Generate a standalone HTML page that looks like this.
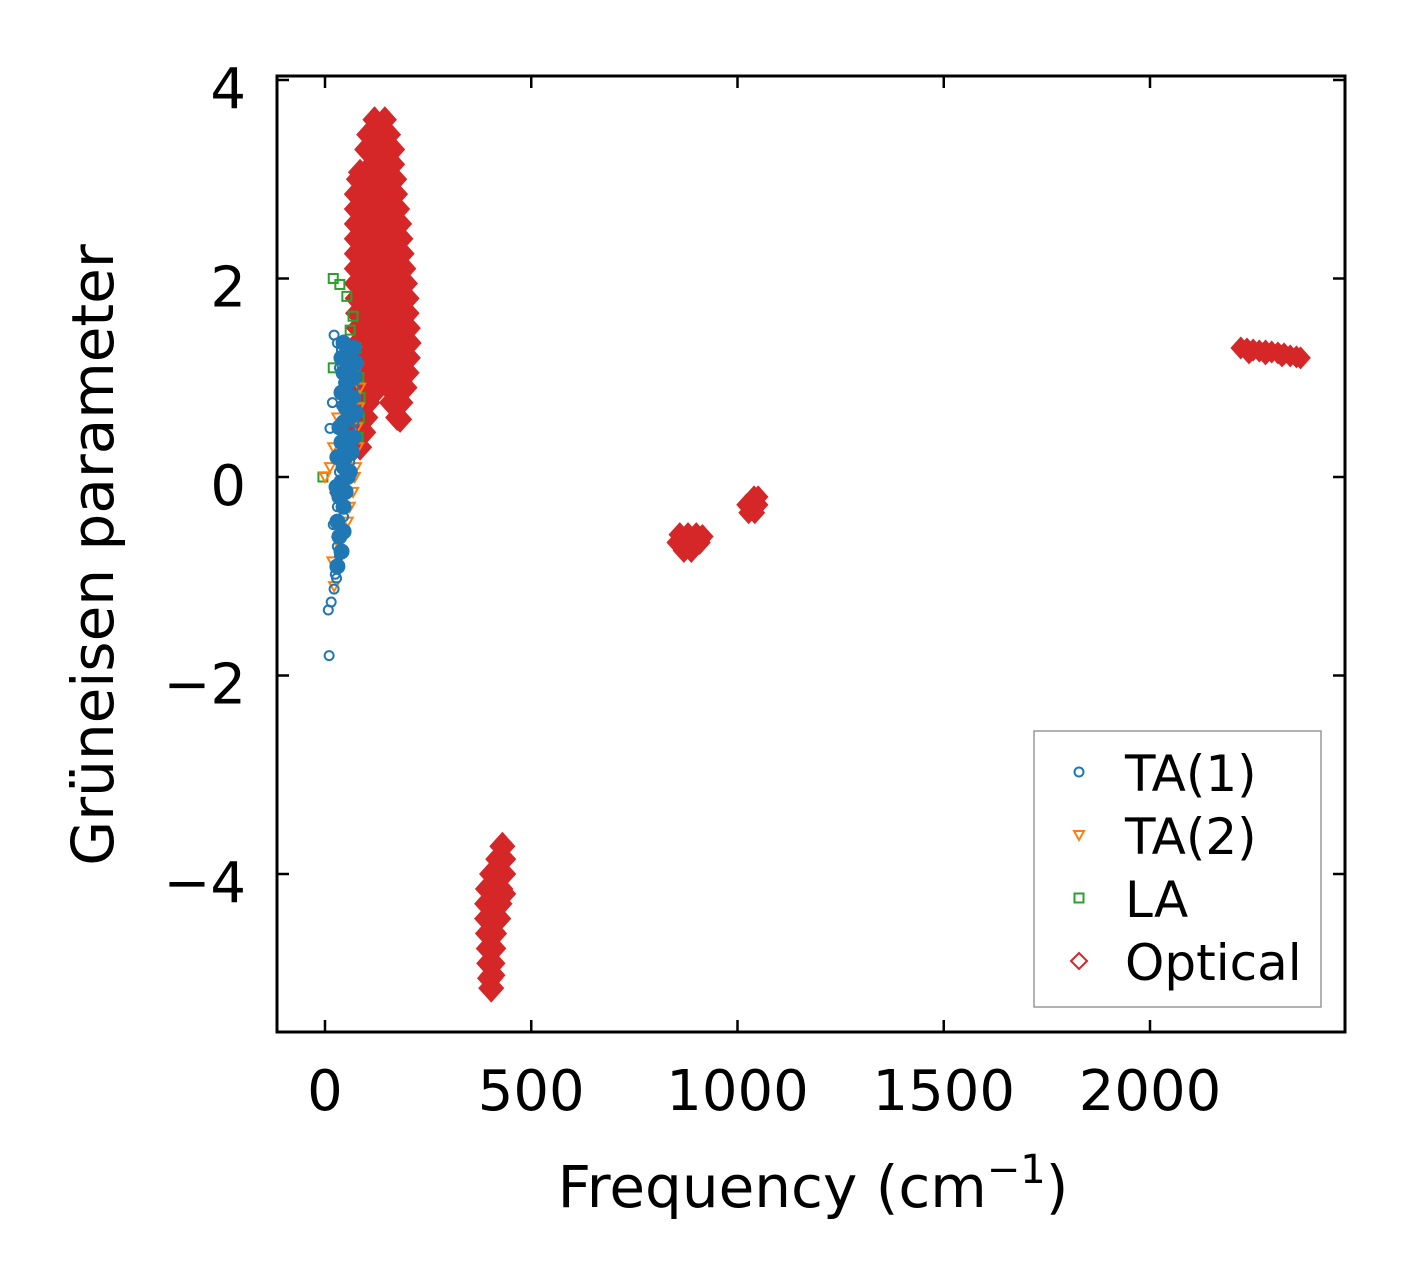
<!DOCTYPE html>
<html><head><meta charset="utf-8"><style>
html,body{margin:0;padding:0;background:#fff;}
svg text{font-family:"DejaVu Sans","Liberation Sans",sans-serif;fill:#000;}
</style></head><body>
<svg id="chart" width="1406" height="1281" viewBox="0 0 1406 1281" xmlns="http://www.w3.org/2000/svg" style="position:absolute;left:0;top:0">
<rect width="1406" height="1281" fill="#fff"/>
<g id="marks"></g>
<g id="axes"></g>
</svg>
<script>
const xTicks=[0,500,1000,1500,2000];
const yTicks=[4,2,0,-2,-4];
const yTickLabels=["4","2","0","\u22122","\u22124"];
const ta1=[[10,-1.8],[8,-1.34],[15,-1.26],[22,-1.13],[28,-1.02],[25,-0.98],[35,-0.79],[30,-0.7],[38,-0.6],[20,-0.48],[35,-0.45],[45,-0.4],[30,-0.3],[40,-0.2],[25,-0.15],[45,-0.05],[35,0.05],[50,0.1],[60,0.15],[40,0.25],[55,0.3],[65,0.35],[45,0.45],[12,0.49],[60,0.5],[70,0.55],[50,0.6],[65,0.7],[18,0.75],[40,0.72],[75,0.8],[55,0.85],[70,0.9],[45,0.95],[60,1.0],[75,1.05],[35,1.1],[50,1.15],[65,1.2],[40,1.28],[55,1.3],[22,1.43],[45,1.38],[30,1.35]];
const ta1Dense=[[30,-0.9],[40,-0.75],[35,-0.6],[45,-0.55],[30,-0.45],[45,-0.3],[35,-0.2],[50,-0.15],[40,-0.05],[55,0.0],[45,0.1],[60,0.05],[50,0.2],[65,0.25],[40,0.35],[55,0.4],[70,0.4],[45,0.55],[60,0.6],[75,0.65],[50,0.7],[65,0.8],[40,0.85],[55,0.95],[70,1.0],[45,1.05],[60,1.1],[75,1.15],[40,1.2],[55,1.25],[70,1.3],[45,1.35],[35,0.5],[30,0.2],[28,-0.1]];
const ta2=[[0,0.0],[12,0.1],[18,-0.85],[22,-1.1],[30,-0.65],[45,-0.55],[55,-0.45],[60,-0.3],[68,-0.15],[72,0.0],[75,0.1],[80,0.3],[78,0.5],[82,0.7],[85,0.9],[80,1.1],[75,1.27],[20,0.3],[25,-0.2],[30,0.6]];
const la=[[20,2.0],[36,1.94],[53,1.82],[68,1.62],[61,1.48],[20,1.1],[-5,0.0],[75,1.3],[82,1.0],[85,0.8],[83,0.6],[80,0.4],[40,1.3]];
const optMain=[[120,3.6],[145,3.6],[105,3.45],[130,3.45],[155,3.45],[100,3.3],[125,3.3],[150,3.3],[165,3.3],[85,3.07],[115,3.15],[140,3.15],[165,3.15],[80,3.0],[105,3.0],[130,3.0],[155,3.0],[170,3.0],[75,2.85],[100,2.85],[125,2.85],[150,2.85],[172,2.85],[75,2.7],[100,2.7],[125,2.7],[150,2.7],[177,2.7],[75,2.55],[100,2.55],[125,2.55],[150,2.55],[175,2.55],[182,2.55],[75,2.4],[100,2.4],[125,2.4],[150,2.4],[175,2.4],[185,2.4],[75,2.25],[100,2.25],[125,2.25],[150,2.25],[175,2.25],[188,2.25],[75,2.1],[100,2.1],[125,2.1],[150,2.1],[175,2.1],[192,2.1],[75,1.95],[100,1.95],[125,1.95],[150,1.95],[175,1.95],[196,1.95],[77,1.8],[100,1.8],[125,1.8],[150,1.8],[175,1.8],[200,1.8],[78,1.65],[100,1.65],[125,1.65],[150,1.65],[175,1.65],[200,1.65],[80,1.5],[105,1.5],[130,1.5],[155,1.5],[180,1.5],[203,1.5],[80,1.35],[105,1.35],[130,1.35],[155,1.35],[180,1.35],[205,1.35],[82,1.2],[105,1.2],[130,1.2],[155,1.2],[180,1.2],[203,1.2],[82,1.05],[105,1.05],[130,1.05],[155,1.05],[180,1.05],[200,1.05],[82,0.9],[105,0.9],[130,0.9],[155,0.9],[180,0.9],[195,0.9],[80,0.75],[105,0.75],[160,0.75],[185,0.75],[78,0.6],[100,0.6],[175,0.6],[182,0.58],[75,0.45],[95,0.45],[72,0.3],[85,0.3]];
const opt400=[[430,-3.72],[420,-3.85],[432,-3.85],[405,-4.0],[418,-4.0],[432,-4.0],[395,-4.15],[410,-4.15],[425,-4.15],[432,-4.2],[393,-4.3],[408,-4.3],[423,-4.3],[393,-4.45],[408,-4.45],[420,-4.45],[395,-4.6],[410,-4.6],[397,-4.75],[408,-4.75],[398,-4.9],[406,-4.9],[400,-5.05],[406,-5.02],[403,-5.15]];
const opt880=[[860,-0.58],[880,-0.58],[900,-0.58],[915,-0.6],[855,-0.66],[875,-0.66],[895,-0.66],[908,-0.66],[870,-0.74],[888,-0.74]];
const opt1040=[[1040,-0.2],[1050,-0.2],[1022,-0.28],[1035,-0.28],[1050,-0.28],[1027,-0.36],[1042,-0.36]];
const opt2280=[[2220,1.3],[2235,1.29],[2250,1.28],[2265,1.27],[2280,1.27],[2295,1.26],[2310,1.25],[2325,1.24],[2340,1.22],[2355,1.21],[2365,1.2],[2240,1.25],[2280,1.24],[2320,1.22]];

const NS="http://www.w3.org/2000/svg";
const L=277,R=1345,T=76,B=1032;
const X0=325, XS=206.25/500;
const Y0=477, YS=99.25;
function xp(v){return X0+v*XS;}
function yp(v){return Y0-v*YS;}
const marks=document.getElementById('marks');
const axes=document.getElementById('axes');
function mk(tag,attrs,parent){const e=document.createElementNS(NS,tag);for(const k in attrs)e.setAttribute(k,attrs[k]);parent.appendChild(e);return e;}
function circle(cx,cy,p,col){return mk('circle',{cx:cx,cy:cy,r:4.5,fill:'none',stroke:col,'stroke-width':2},p);}
function tri(cx,cy,p,col){return mk('polygon',{points:`${cx-5},${cy-4} ${cx+5},${cy-4} ${cx},${cy+5}`,fill:'none',stroke:col,'stroke-width':2},p);}
function sq(cx,cy,p,col){return mk('rect',{x:cx-4.5,y:cy-4.5,width:9,height:9,fill:'none',stroke:col,'stroke-width':2},p);}
function dia(cx,cy,p,col,h,fill){return mk('polygon',{points:`${cx},${cy-h} ${cx+h*0.9},${cy} ${cx},${cy+h} ${cx-h*0.9},${cy}`,fill:fill,stroke:col,'stroke-width':2},p);}
const RED='#d62728',BLUE='#1f77b4',ORANGE='#ff7f0e',GREEN='#2ca02c';
function drawOpt(arr,h){arr.forEach(d=>{const e=dia(xp(d[0]),yp(d[1]),marks,RED,h,RED);

});}
drawOpt(optMain,12);drawOpt(opt400,13);drawOpt(opt880,11);drawOpt(opt1040,10);drawOpt(opt2280,10);
la.forEach(d=>{const e=sq(xp(d[0]),yp(d[1]),marks,GREEN);

});
ta2.forEach(d=>{const e=tri(xp(d[0]),yp(d[1]),marks,ORANGE);

});
ta1.forEach(d=>{const e=circle(xp(d[0]),yp(d[1]),marks,BLUE);

});
ta1Dense.forEach(d=>{const e=mk('circle',{cx:xp(d[0]),cy:yp(d[1]),r:8,fill:BLUE},marks);

});

const fr=mk('rect',{x:L,y:T,width:R-L,height:B-T,fill:'none',stroke:'#000','stroke-width':3},axes);


xTicks.forEach(v=>{const x=xp(v);
mk('line',{x1:x,y1:B,x2:x,y2:B-12,stroke:'#000','stroke-width':2.5},axes);
mk('line',{x1:x,y1:T,x2:x,y2:T+12,stroke:'#000','stroke-width':2.5},axes);
const t=mk('text',{x:x,y:1110,'font-size':56,'text-anchor':'middle'},axes);t.textContent=String(v);

});
yTicks.forEach((v,i)=>{const y=yp(v);
mk('line',{x1:L,y1:y,x2:L+12,y2:y,stroke:'#000','stroke-width':2.5},axes);
mk('line',{x1:R,y1:y,x2:R-12,y2:y,stroke:'#000','stroke-width':2.5},axes);
const t=mk('text',{x:246,y:y+28,'font-size':56,'text-anchor':'end'},axes);t.textContent=yTickLabels[i];

});
</script>
<svg style="position:absolute;left:0;top:0" width="1406" height="1281">
<text x="813" y="1207" font-size="58" text-anchor="middle" font-family="DejaVu Sans, Liberation Sans, sans-serif">Frequency (cm<tspan dy="-24" font-size="40">−1</tspan><tspan dy="24">)</tspan></text>
<text transform="translate(113,555) rotate(-90)" font-size="58" text-anchor="middle" font-family="DejaVu Sans, Liberation Sans, sans-serif">Grüneisen parameter</text>
<g>
<rect x="1034" y="731" width="287" height="276" fill="#fff" stroke="#999" stroke-width="1.5"/>
<circle cx="1079" cy="772" r="4.5" fill="none" stroke="#1f77b4" stroke-width="2"/>
<polygon points="1074,831 1084,831 1079,840" fill="none" stroke="#ff7f0e" stroke-width="2"/>
<rect x="1074.5" y="893.5" width="9" height="9" fill="none" stroke="#2ca02c" stroke-width="2"/>
<polygon points="1079,953 1087,961 1079,969 1071,961" fill="none" stroke="#d62728" stroke-width="2"/>
<text x="1125" y="791" font-size="50" font-family="DejaVu Sans, Liberation Sans, sans-serif">TA(1)</text>
<text x="1125" y="854" font-size="50" font-family="DejaVu Sans, Liberation Sans, sans-serif">TA(2)</text>
<text x="1125" y="917" font-size="50" font-family="DejaVu Sans, Liberation Sans, sans-serif">LA</text>
<text x="1125" y="980" font-size="50" font-family="DejaVu Sans, Liberation Sans, sans-serif">Optical</text>
</g>
</svg>
</body></html>
